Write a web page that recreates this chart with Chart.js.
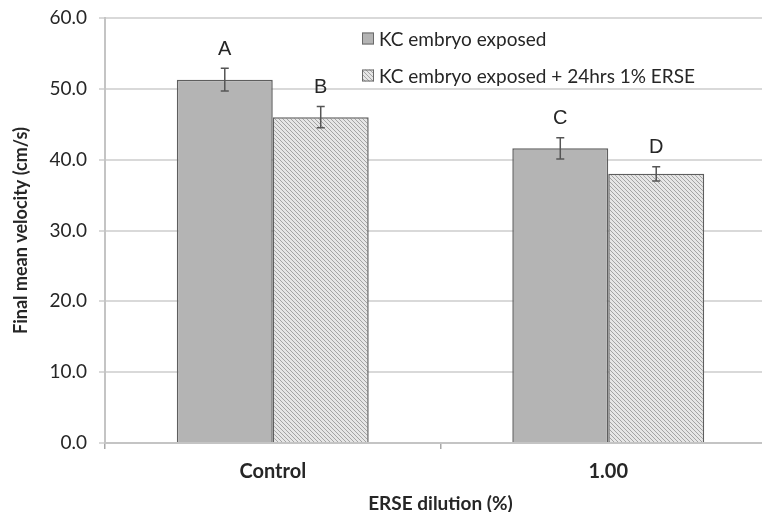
<!DOCTYPE html>
<html>
<head>
<meta charset="utf-8">
<script src="https://cdn.jsdelivr.net/npm/chart.js@4.4.1/dist/chart.umd.min.js"></script>
<style>
  html, body { margin: 0; padding: 0; background: #fff; }
  #wrap { width: 762px; height: 512px; overflow: hidden; position: relative; }
  canvas { display: block; }
</style>
</head>
<body>
<div id="wrap"><canvas id="c" width="776" height="512"></canvas></div>
<script>
// Final mean velocity by ERSE dilution
const categories = ['Control', '1.00'];
const seriesNames = ['KC embryo exposed', 'KC embryo exposed + 24hrs 1% ERSE'];
const exposedMeans = [51.3, 41.6];
const exposedErrors = [1.6, 1.5];
const treatedMeans = [46.0, 38.0];
const treatedErrors = [1.5, 1.0];
const exposedLetters = ['A', 'C'];
const treatedLetters = ['B', 'D'];
const yTicks = [0, 10, 20, 30, 40, 50, 60];

const TEXT = '#262626';
const FONT = 'Lato';

// diagonal hatch fill ("\\" direction) for the treated series
function makeHatch() {
  const s = 4;
  const c = document.createElement('canvas');
  c.width = s; c.height = s;
  const g = c.getContext('2d');
  g.fillStyle = '#e6e6e6';
  g.fillRect(0, 0, s, s);
  g.strokeStyle = '#a4a4a4';
  g.lineWidth = 1;
  g.beginPath();
  g.moveTo(-1, -1); g.lineTo(s + 1, s + 1);
  g.moveTo(-1, s - 1); g.lineTo(1, s + 1);
  g.moveTo(s - 1, -1); g.lineTo(s + 1, 1);
  g.stroke();
  return document.getElementById('c').getContext('2d').createPattern(c, 'repeat');
}
const hatch = makeHatch();

// error bars and significance letters above each bar
const errorBarPlugin = {
  id: 'errorBars',
  afterDatasetsDraw(chart) {
    const ctx = chart.ctx;
    const y = chart.scales.y;
    chart.data.datasets.forEach((ds, i) => {
      const meta = chart.getDatasetMeta(i);
      meta.data.forEach((bar, j) => {
        const v = ds.data[j], e = ds.errors[j];
        const yTop = y.getPixelForValue(v + e);
        const yBot = y.getPixelForValue(v - e);
        const x = bar.x;
        ctx.save();
        ctx.strokeStyle = '#555';
        ctx.lineWidth = 1.5;
        ctx.beginPath();
        ctx.moveTo(x, yTop); ctx.lineTo(x, yBot);
        ctx.moveTo(x - 4, yTop); ctx.lineTo(x + 4, yTop);
        ctx.moveTo(x - 4, yBot); ctx.lineTo(x + 4, yBot);
        ctx.stroke();
        ctx.fillStyle = TEXT;
        ctx.font = '20px "Liberation Sans"';
        ctx.textAlign = 'center';
        ctx.textBaseline = 'middle';
        ctx.fillText(ds.letters[j], x, yTop - 19);
        ctx.restore();
      });
    });
  }
};

// legend drawn inside the plot area, upper right
const legendPlugin = {
  id: 'innerLegend',
  afterDraw(chart) {
    const ctx = chart.ctx;
    const x0 = 362, rows = [38.5, 75.5], box = 12;
    chart.data.datasets.forEach((ds, i) => {
      const cy = rows[i];
      ctx.save();
      ctx.fillStyle = ds.backgroundColor;
      ctx.fillRect(x0, cy - box / 2, box, box);
      ctx.strokeStyle = '#6a6a6a';
      ctx.lineWidth = 1;
      ctx.strokeRect(x0 + 0.5, cy - box / 2 + 0.5, box - 1, box - 1);
      ctx.fillStyle = TEXT;
      ctx.font = '19px ' + FONT;
      ctx.textAlign = 'left';
      ctx.textBaseline = 'middle';
      ctx.fillText(ds.label, x0 + 17, cy + 1);
      ctx.restore();
    });
  }
};

new Chart(document.getElementById('c'), {
  type: 'bar',
  data: {
    labels: categories,
    datasets: [
      {
        label: seriesNames[0],
        data: exposedMeans,
        errors: exposedErrors,
        letters: exposedLetters,
        backgroundColor: '#b4b4b4',
        borderColor: '#5e5e5e',
        borderWidth: 1.5
      },
      {
        label: seriesNames[1],
        data: treatedMeans,
        errors: treatedErrors,
        letters: treatedLetters,
        backgroundColor: hatch,
        borderColor: '#5e5e5e',
        borderWidth: 1.5
      }
    ]
  },
  options: {
    responsive: false,
    animation: false,
    layout: { padding: { top: 18, left: 0, right: 0, bottom: 0 } },
    datasets: { bar: { categoryPercentage: 0.572, barPercentage: 1 } },
    plugins: { legend: { display: false }, tooltip: { enabled: false } },
    scales: {
      x: {
        grid: { display: true, drawOnChartArea: false, drawTicks: true, tickLength: 6, color: '#a8a8a8', lineWidth: 1.5, offset: true },
        border: { display: true, color: '#c4c4c4', width: 2 },
        ticks: { font: { family: FONT, size: 20, weight: 'bold' }, color: TEXT, padding: 11 },
        title: {
          display: true, text: 'ERSE dilution (%)', color: TEXT,
          font: { family: FONT, size: 19, weight: 'bold', lineHeight: 0.9 },
          padding: { top: 0, bottom: 0 }
        },
        afterFit(s) { s.height = 69; }
      },
      y: {
        min: 0, max: 60,
        afterBuildTicks(s) { s.ticks = yTicks.map(v => ({ value: v })); },
        ticks: { callback: v => Number(v).toFixed(1), font: { family: FONT, size: 19, lineHeight: 0.6 }, color: TEXT, padding: 12 },
        grid: { color: '#d9d9d9', lineWidth: 2, tickLength: 6 },
        border: { color: '#c4c4c4', width: 2 },
        title: {
          display: true, text: 'Final mean velocity (cm/s)', color: TEXT,
          font: { family: FONT, size: 18, weight: 'bold' },
          padding: { top: 10, bottom: 0 }
        },
        afterFit(s) { s.width = 105; }
      }
    }
  },
  plugins: [errorBarPlugin, legendPlugin]
});
</script>
</body>
</html>
